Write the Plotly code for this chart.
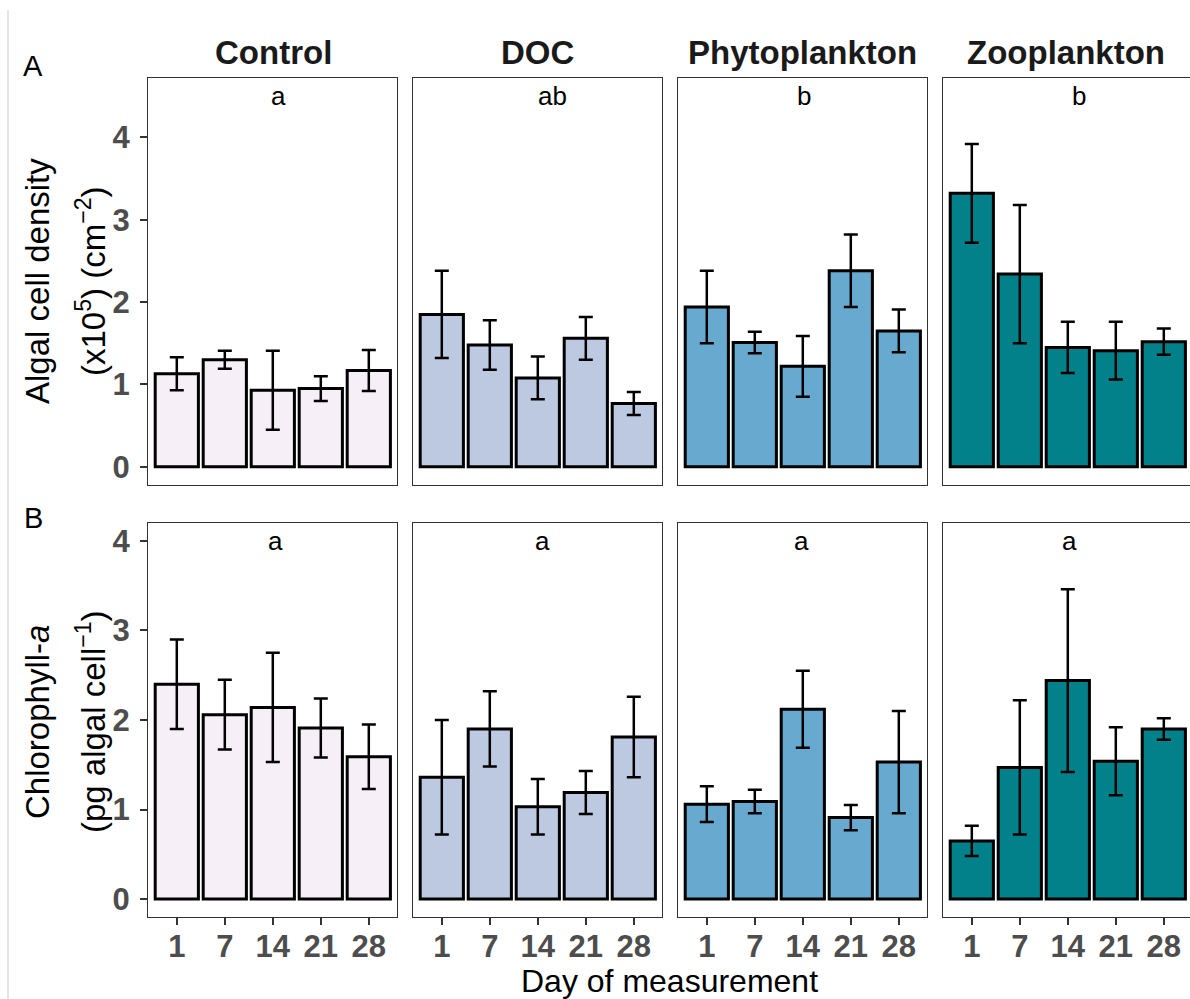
import plotly.graph_objects as go
from plotly.subplots import make_subplots

# ---- data -------------------------------------------------------------
days = ["1", "7", "14", "21", "28"]
treatments = ["Control", "DOC", "Phytoplankton", "Zooplankton"]
colors = ["#F6EFF7", "#BDC9E1", "#67A9CF", "#02818A"]

# Algal cell density (x10^5 cm^-2): mean and standard error
density_control = [1.13, 1.30, 0.93, 0.95, 1.17]
density_doc = [1.85, 1.48, 1.08, 1.56, 0.77]
density_phyto = [1.94, 1.51, 1.22, 2.38, 1.65]
density_zoo = [3.32, 2.34, 1.45, 1.41, 1.52]
density_se_control = [0.20, 0.11, 0.48, 0.15, 0.25]
density_se_doc = [0.53, 0.30, 0.26, 0.26, 0.14]
density_se_phyto = [0.44, 0.13, 0.37, 0.44, 0.26]
density_se_zoo = [0.60, 0.84, 0.31, 0.35, 0.16]

# Chlorophyll-a (pg per algal cell): mean and standard error
chl_control = [2.40, 2.06, 2.14, 1.91, 1.59]
chl_doc = [1.36, 1.90, 1.03, 1.19, 1.81]
chl_phyto = [1.06, 1.09, 2.12, 0.91, 1.53]
chl_zoo = [0.65, 1.47, 2.44, 1.54, 1.90]
chl_se_control = [0.50, 0.39, 0.61, 0.33, 0.36]
chl_se_doc = [0.64, 0.42, 0.31, 0.24, 0.45]
chl_se_phyto = [0.20, 0.13, 0.43, 0.14, 0.57]
chl_se_zoo = [0.17, 0.75, 1.02, 0.38, 0.12]

# significance groupings
letters_density = ["a", "ab", "b", "b"]
letters_chl = ["a", "a", "a", "a"]

y_ticks = [0, 1, 2, 3, 4]

density = [density_control, density_doc, density_phyto, density_zoo]
density_se = [density_se_control, density_se_doc, density_se_phyto, density_se_zoo]
chl = [chl_control, chl_doc, chl_phyto, chl_zoo]
chl_se = [chl_se_control, chl_se_doc, chl_se_phyto, chl_se_zoo]

# ---- layout geometry (pixels) ----------------------------------------
W, H = 1190, 999
col_left = [148, 413, 678, 943]
col_right = [397, 662, 927, 1190]
row_top = [78, 523]
row_bot = [485, 917]
px_per_cat = 48.0


def fx(p):
    return p / W


def fy(p):
    return 1 - p / H


FONT = "Liberation Sans, Arial, sans-serif"

fig = make_subplots(rows=2, cols=4)

rows = [(density, density_se), (chl, chl_se)]
for r, (means, ses) in enumerate(rows):
    for c in range(4):
        fig.add_trace(
            go.Bar(
                x=days,
                y=means[c],
                width=0.9,
                marker=dict(color=colors[c], line=dict(color="black", width=3)),
                error_y=dict(type="data", array=ses[c], color="black",
                             thickness=2.5, width=7),
                showlegend=False,
            ),
            row=r + 1, col=c + 1,
        )

y_ranges = [[-0.22, 4.72], [-0.2, 4.2]]
for r in range(2):
    for c in range(4):
        idx = r * 4 + c + 1
        xname = "xaxis" if idx == 1 else f"xaxis{idx}"
        yname = "yaxis" if idx == 1 else f"yaxis{idx}"
        width_px = col_right[c] - col_left[c]
        xr = [-0.6, -0.6 + width_px / px_per_cat]
        fig.layout[xname].update(
            domain=[fx(col_left[c]), fx(col_right[c])],
            type="category",
            range=xr,
            showline=True, mirror=True, linecolor="#333333", linewidth=1.2,
            showgrid=False, zeroline=False,
            ticks="outside" if r == 1 else "",
            ticklen=7, tickwidth=1.5, tickcolor="#333333",
            showticklabels=(r == 1),
            ticklabelstandoff=-5,
            tickfont=dict(family=FONT, size=31, color="#4D4D4D", weight="bold"),
            fixedrange=True,
        )
        fig.layout[yname].update(
            domain=[fy(row_bot[r]), fy(row_top[r])],
            range=y_ranges[r],
            tickvals=y_ticks,
            showline=True, mirror=(c != 3), linecolor="#333333", linewidth=1.2,
            showgrid=False, zeroline=False,
            ticks="outside" if c == 0 else "",
            ticklen=7, tickwidth=1.5, tickcolor="#333333",
            showticklabels=(c == 0),
            ticklabelstandoff=4,
            tickfont=dict(family=FONT, size=31, color="#4D4D4D", weight="bold"),
            fixedrange=True,
        )

annotations = []
# facet strip titles
strip_centers = [273, 537, 802, 1066]
for name, cx in zip(treatments, strip_centers):
    annotations.append(dict(
        x=fx(cx), y=fy(52), xref="paper", yref="paper", text=f"<b>{name}</b>",
        showarrow=False, xanchor="center", yanchor="middle",
        font=dict(family=FONT, size=33, color="#1A1A1A")))

# significance letters
top_letter_x = [278, 552, 804, 1079]
bot_letter_x = [275, 542, 801, 1069]
for lab, cx in zip(letters_density, top_letter_x):
    annotations.append(dict(
        x=fx(cx), y=fy(96), xref="paper", yref="paper", text=lab,
        showarrow=False, xanchor="center", yanchor="middle",
        font=dict(family=FONT, size=26, color="black")))
for lab, cx in zip(letters_chl, bot_letter_x):
    annotations.append(dict(
        x=fx(cx), y=fy(541), xref="paper", yref="paper", text=lab,
        showarrow=False, xanchor="center", yanchor="middle",
        font=dict(family=FONT, size=26, color="black")))

# panel tags
annotations.append(dict(x=fx(33), y=fy(66), xref="paper", yref="paper", text="A",
                        showarrow=False, xanchor="center", yanchor="middle",
                        font=dict(family=FONT, size=29, color="black")))
annotations.append(dict(x=fx(33), y=fy(518), xref="paper", yref="paper", text="B",
                        showarrow=False, xanchor="center", yanchor="middle",
                        font=dict(family=FONT, size=29, color="black")))

# y-axis titles (two lines each)
ytitles = [
    ("Algal cell density", "(x10<sup>5</sup>) (cm<sup>\u22122</sup>)", 281),
    ("Chlorophyll-<i>a</i>", "(pg algal cell<sup>\u22121</sup>)", 722),
]
for l1, l2, cy in ytitles:
    annotations.append(dict(x=fx(37), y=fy(cy), xref="paper", yref="paper", text=l1,
                            textangle=-90, showarrow=False, xanchor="center",
                            yanchor="middle", font=dict(family=FONT, size=33, color="black")))
    annotations.append(dict(x=fx(91), y=fy(cy), xref="paper", yref="paper", text=l2,
                            textangle=-90, showarrow=False, xanchor="center",
                            yanchor="middle", font=dict(family=FONT, size=33, color="black")))

# x-axis title
annotations.append(dict(x=fx(669), y=0, xref="paper", yref="paper",
                        text="Day of measurement", showarrow=False,
                        xanchor="center", yanchor="bottom", yshift=-2,
                        font=dict(family=FONT, size=32, color="black")))

fig.update_layout(
    width=W, height=H,
    margin=dict(l=0, r=0, t=0, b=0),
    paper_bgcolor="white", plot_bgcolor="white",
    annotations=annotations,
    bargap=0.1,
    shapes=[dict(type="line", xref="paper", yref="paper",
                 x0=fx(8), x1=fx(8), y0=0, y1=fy(10),
                 line=dict(color="#DDDDDD", width=1.5))],
)

fig.write_html("out.html")
